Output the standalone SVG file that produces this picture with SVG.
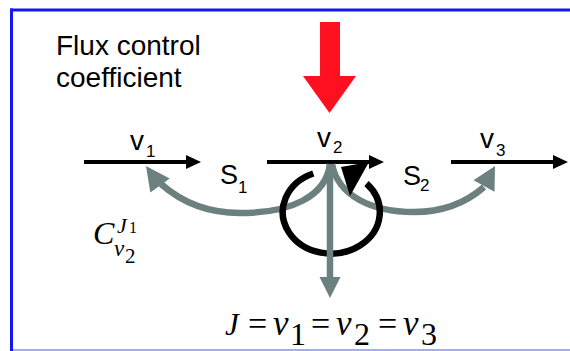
<svg xmlns="http://www.w3.org/2000/svg" width="570" height="351" viewBox="0 0 570 351">
<style>
.sans{font-family:"Liberation Sans",Arial,sans-serif;fill:#000}
.serif{font-family:"Liberation Serif","Times New Roman",serif;fill:#000}
.it{font-style:italic}
.flow{stroke:#000;stroke-width:4;fill:none}
.gray{stroke:#6d8080;stroke-width:6.5;fill:none}
.grayhead{fill:#6d8080}
.loop{stroke:#000;stroke-width:6.5;fill:none;stroke-linecap:butt}
</style>
<defs>
<marker id="blk" markerUnits="userSpaceOnUse" markerWidth="16" markerHeight="16" viewBox="0 0 16 16" refX="4" refY="8" orient="auto">
<path d="M0,1 L15,8 L0,15 Z" fill="#000"/>
</marker>
</defs>
<rect x="0" y="0" width="570" height="351" fill="#fff"/>
<g id="frame">
<line x1="10" y1="10" x2="570" y2="10" stroke="#1616f0" stroke-width="3"/>
<line x1="11.5" y1="8.5" x2="11.5" y2="351" stroke="#1616f0" stroke-width="3"/>
<line x1="13" y1="350" x2="570" y2="350" stroke="#a4acf6" stroke-width="2"/>
</g>
<g id="title">
<text class="sans" x="56" y="55" font-size="28">Flux control</text>
<text class="sans" x="56" y="87" font-size="28">coefficient</text>
</g>
<g id="perturbation">
<polygon points="320,22 340,22 340,76 356,76 329.5,113 303,76 320,76" fill="#ff1020"/>
</g>
<g id="connectors">
<path id="v1" class="flow" d="M84,162 H190" marker-end="url(#blk)"/>
<path id="v2" class="flow" d="M267,162 H373" marker-end="url(#blk)"/>
<path id="v3" class="flow" d="M451,162 H557" marker-end="url(#blk)"/>
<path class="gray" d="M330,164 C326,196 292,213 240,213 C204,213 178,199 161,184"/>
<polygon class="grayhead" points="146,166 169.7,178.5 150.3,192.5"/>
<path class="gray" d="M332,164 C338,196 372,212 414,212 C447,212 468,201 484,187"/>
<polygon class="grayhead" points="495,166 494.5,191.8 473.5,180.2"/>
<path class="loop" d="M313.3,173.5 A48.5,41.5 0 1 0 366.5,183.5"/>
<polygon points="341,167 369,162 350,196" fill="#000"/>
<line class="gray" x1="330" y1="164" x2="330" y2="280"/>
<polygon class="grayhead" points="319.5,277 340.5,277 330,298"/>
</g>
<g id="label-v1">
<text class="sans" x="130" y="150" font-size="28">v</text>
<text class="sans" x="146" y="157" font-size="17">1</text>
</g>
<g id="label-v2">
<text class="sans" x="317" y="147" font-size="28">v</text>
<text class="sans" x="333" y="153" font-size="17">2</text>
</g>
<g id="label-v3">
<text class="sans" x="480" y="148" font-size="28">v</text>
<text class="sans" x="496" y="156" font-size="17">3</text>
</g>
<g id="S1">
<text class="sans" x="220" y="184" font-size="27">S</text>
<text class="sans" x="238" y="193" font-size="17">1</text>
</g>
<g id="S2">
<text class="sans" x="403" y="185" font-size="27">S</text>
<text class="sans" x="420" y="191" font-size="17">2</text>
</g>
<g id="coefficient-symbol">
<text class="serif it" x="93" y="244" font-size="32">C</text>
<text class="serif it" x="117" y="233" font-size="22">J</text>
<text class="serif" x="129" y="233" font-size="16">1</text>
<text class="serif it" x="114" y="256" font-size="23">v</text>
<text class="serif" x="125" y="263" font-size="21">2</text>
</g>
<g id="equation">
<text class="serif it" x="225" y="335" font-size="31">J</text>
<text class="serif" x="248" y="335" font-size="34">=</text>
<text class="serif it" x="273" y="335" font-size="35">v</text>
<text class="serif" x="290" y="345" font-size="32">1</text>
<text class="serif" x="311" y="335" font-size="34">=</text>
<text class="serif it" x="336" y="335" font-size="35">v</text>
<text class="serif" x="354" y="345" font-size="32">2</text>
<text class="serif" x="378" y="335" font-size="34">=</text>
<text class="serif it" x="403" y="335" font-size="35">v</text>
<text class="serif" x="421" y="345" font-size="32">3</text>
</g>
</svg>
